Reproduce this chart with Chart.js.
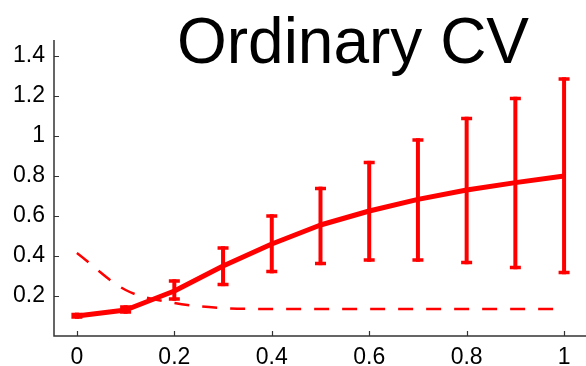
<!DOCTYPE html>
<html>
<head>
<meta charset="utf-8">
<script src="https://cdn.jsdelivr.net/npm/chart.js@4"></script>
<style>
html,body{margin:0;padding:0;background:#fff;}
#wrap{width:586px;height:366px;position:relative;}
</style>
</head>
<body>
<div id="wrap"><canvas id="c" width="586" height="366"></canvas></div>
<script>
const xValues   = [0, 0.1, 0.2, 0.3, 0.4, 0.5, 0.6, 0.7, 0.8, 0.9, 1.0];
const meanCV    = [0.10, 0.13, 0.225, 0.35, 0.46, 0.555, 0.625, 0.683, 0.73, 0.767, 0.80];
const errLow    = [0.095, 0.12, 0.185, 0.258, 0.322, 0.363, 0.38, 0.38, 0.367, 0.343, 0.317];
const errHigh   = [0.108, 0.145, 0.275, 0.44, 0.60, 0.738, 0.867, 0.98, 1.087, 1.188, 1.285];
const dashedCV  = [0.415, 0.23, 0.165, 0.14, 0.135, 0.135, 0.135, 0.135, 0.135, 0.135, 0.135];
const xTicks    = [0, 0.2, 0.4, 0.6, 0.8, 1];
const yTicks    = [0.2, 0.4, 0.6, 0.8, 1, 1.2, 1.4];
const titleText = 'Ordinary CV';

const RED = '#ff0000';
const AXIS = '#333333';
const FONT = '"Liberation Sans", Arial, sans-serif';

const errorBarPlugin = {
  id: 'errorBars',
  afterDatasetsDraw(chart) {
    const {ctx, scales: {x, y}} = chart;
    ctx.save();
    ctx.strokeStyle = RED;
    ctx.lineCap = 'butt';
    for (let i = 0; i < xValues.length; i++) {
      const px = x.getPixelForValue(xValues[i]);
      const lo = y.getPixelForValue(errLow[i]);
      const hi = y.getPixelForValue(errHigh[i]);
      ctx.lineWidth = 4;
      ctx.beginPath();
      ctx.moveTo(px, lo + 1.75);
      ctx.lineTo(px, hi - 1.75);
      ctx.stroke();
      ctx.lineWidth = 3.5;
      ctx.beginPath();
      ctx.moveTo(px - 5.5, lo); ctx.lineTo(px + 5.5, lo);
      ctx.moveTo(px - 5.5, hi); ctx.lineTo(px + 5.5, hi);
      ctx.stroke();
    }
    ctx.restore();
  }
};

const axesPlugin = {
  id: 'axesTicks',
  afterDraw(chart) {
    const {ctx, chartArea: a, scales: {x, y}} = chart;
    ctx.save();
    ctx.strokeStyle = AXIS;
    ctx.lineWidth = 1.5;
    ctx.beginPath();
    ctx.moveTo(a.left, a.top);
    ctx.lineTo(a.left, a.bottom);
    ctx.lineTo(chart.width, a.bottom);
    ctx.stroke();
    ctx.lineWidth = 1.2;
    ctx.beginPath();
    for (const v of yTicks) {
      const py = Math.round(y.getPixelForValue(v)) + 0.5;
      ctx.moveTo(a.left, py); ctx.lineTo(a.left + 5, py);
    }
    for (const v of xTicks) {
      const px = Math.round(x.getPixelForValue(v)) + 0.5;
      ctx.moveTo(px, a.bottom); ctx.lineTo(px, a.bottom - 5);
    }
    ctx.stroke();
    // title
    ctx.fillStyle = '#000';
    ctx.font = '64px ' + FONT;
    ctx.textAlign = 'center';
    ctx.textBaseline = 'alphabetic';
    ctx.fillText(titleText, 353, 63);
    ctx.restore();
  }
};

new Chart(document.getElementById('c'), {
  type: 'line',
  data: {
    datasets: [
      {
        data: xValues.map((v, i) => ({x: v, y: dashedCV[i]})),
        borderColor: RED,
        borderWidth: 2.5,
        borderDash: [15, 13],
        pointRadius: 0,
        cubicInterpolationMode: 'monotone',
        fill: false
      },
      {
        data: xValues.map((v, i) => ({x: v, y: meanCV[i]})),
        borderColor: RED,
        borderWidth: 5,
        pointRadius: 0,
        tension: 0,
        borderJoinStyle: 'round',
        fill: false
      }
    ]
  },
  options: {
    responsive: false,
    animation: false,
    events: [],
    layout: {padding: {top: 40, right: 0, left: 0, bottom: 0}},
    plugins: {legend: {display: false}, tooltip: {enabled: false}, title: {display: false}},
    scales: {
      x: {
        type: 'linear',
        min: -0.047,
        max: 1.045,
        afterBuildTicks(s) { s.ticks = xTicks.map(v => ({value: v})); },
        afterFit(s) { s.height = 30; },
        grid: {display: false, drawTicks: false},
        border: {display: false},
        ticks: {
          padding: 8,
          color: '#000',
          font: {family: FONT, size: 23},
          maxRotation: 0,
          autoSkip: false,
          callback: v => String(v)
        }
      },
      y: {
        type: 'linear',
        min: 0,
        max: 1.48,
        afterBuildTicks(s) { s.ticks = yTicks.map(v => ({value: v})); },
        afterFit(s) { s.width = 54; },
        grid: {display: false, drawTicks: false},
        border: {display: false},
        ticks: {
          padding: 9,
          color: '#000',
          font: {family: FONT, size: 23},
          autoSkip: false,
          callback: v => String(v)
        }
      }
    }
  },
  plugins: [errorBarPlugin, axesPlugin]
});
</script>
</body>
</html>
